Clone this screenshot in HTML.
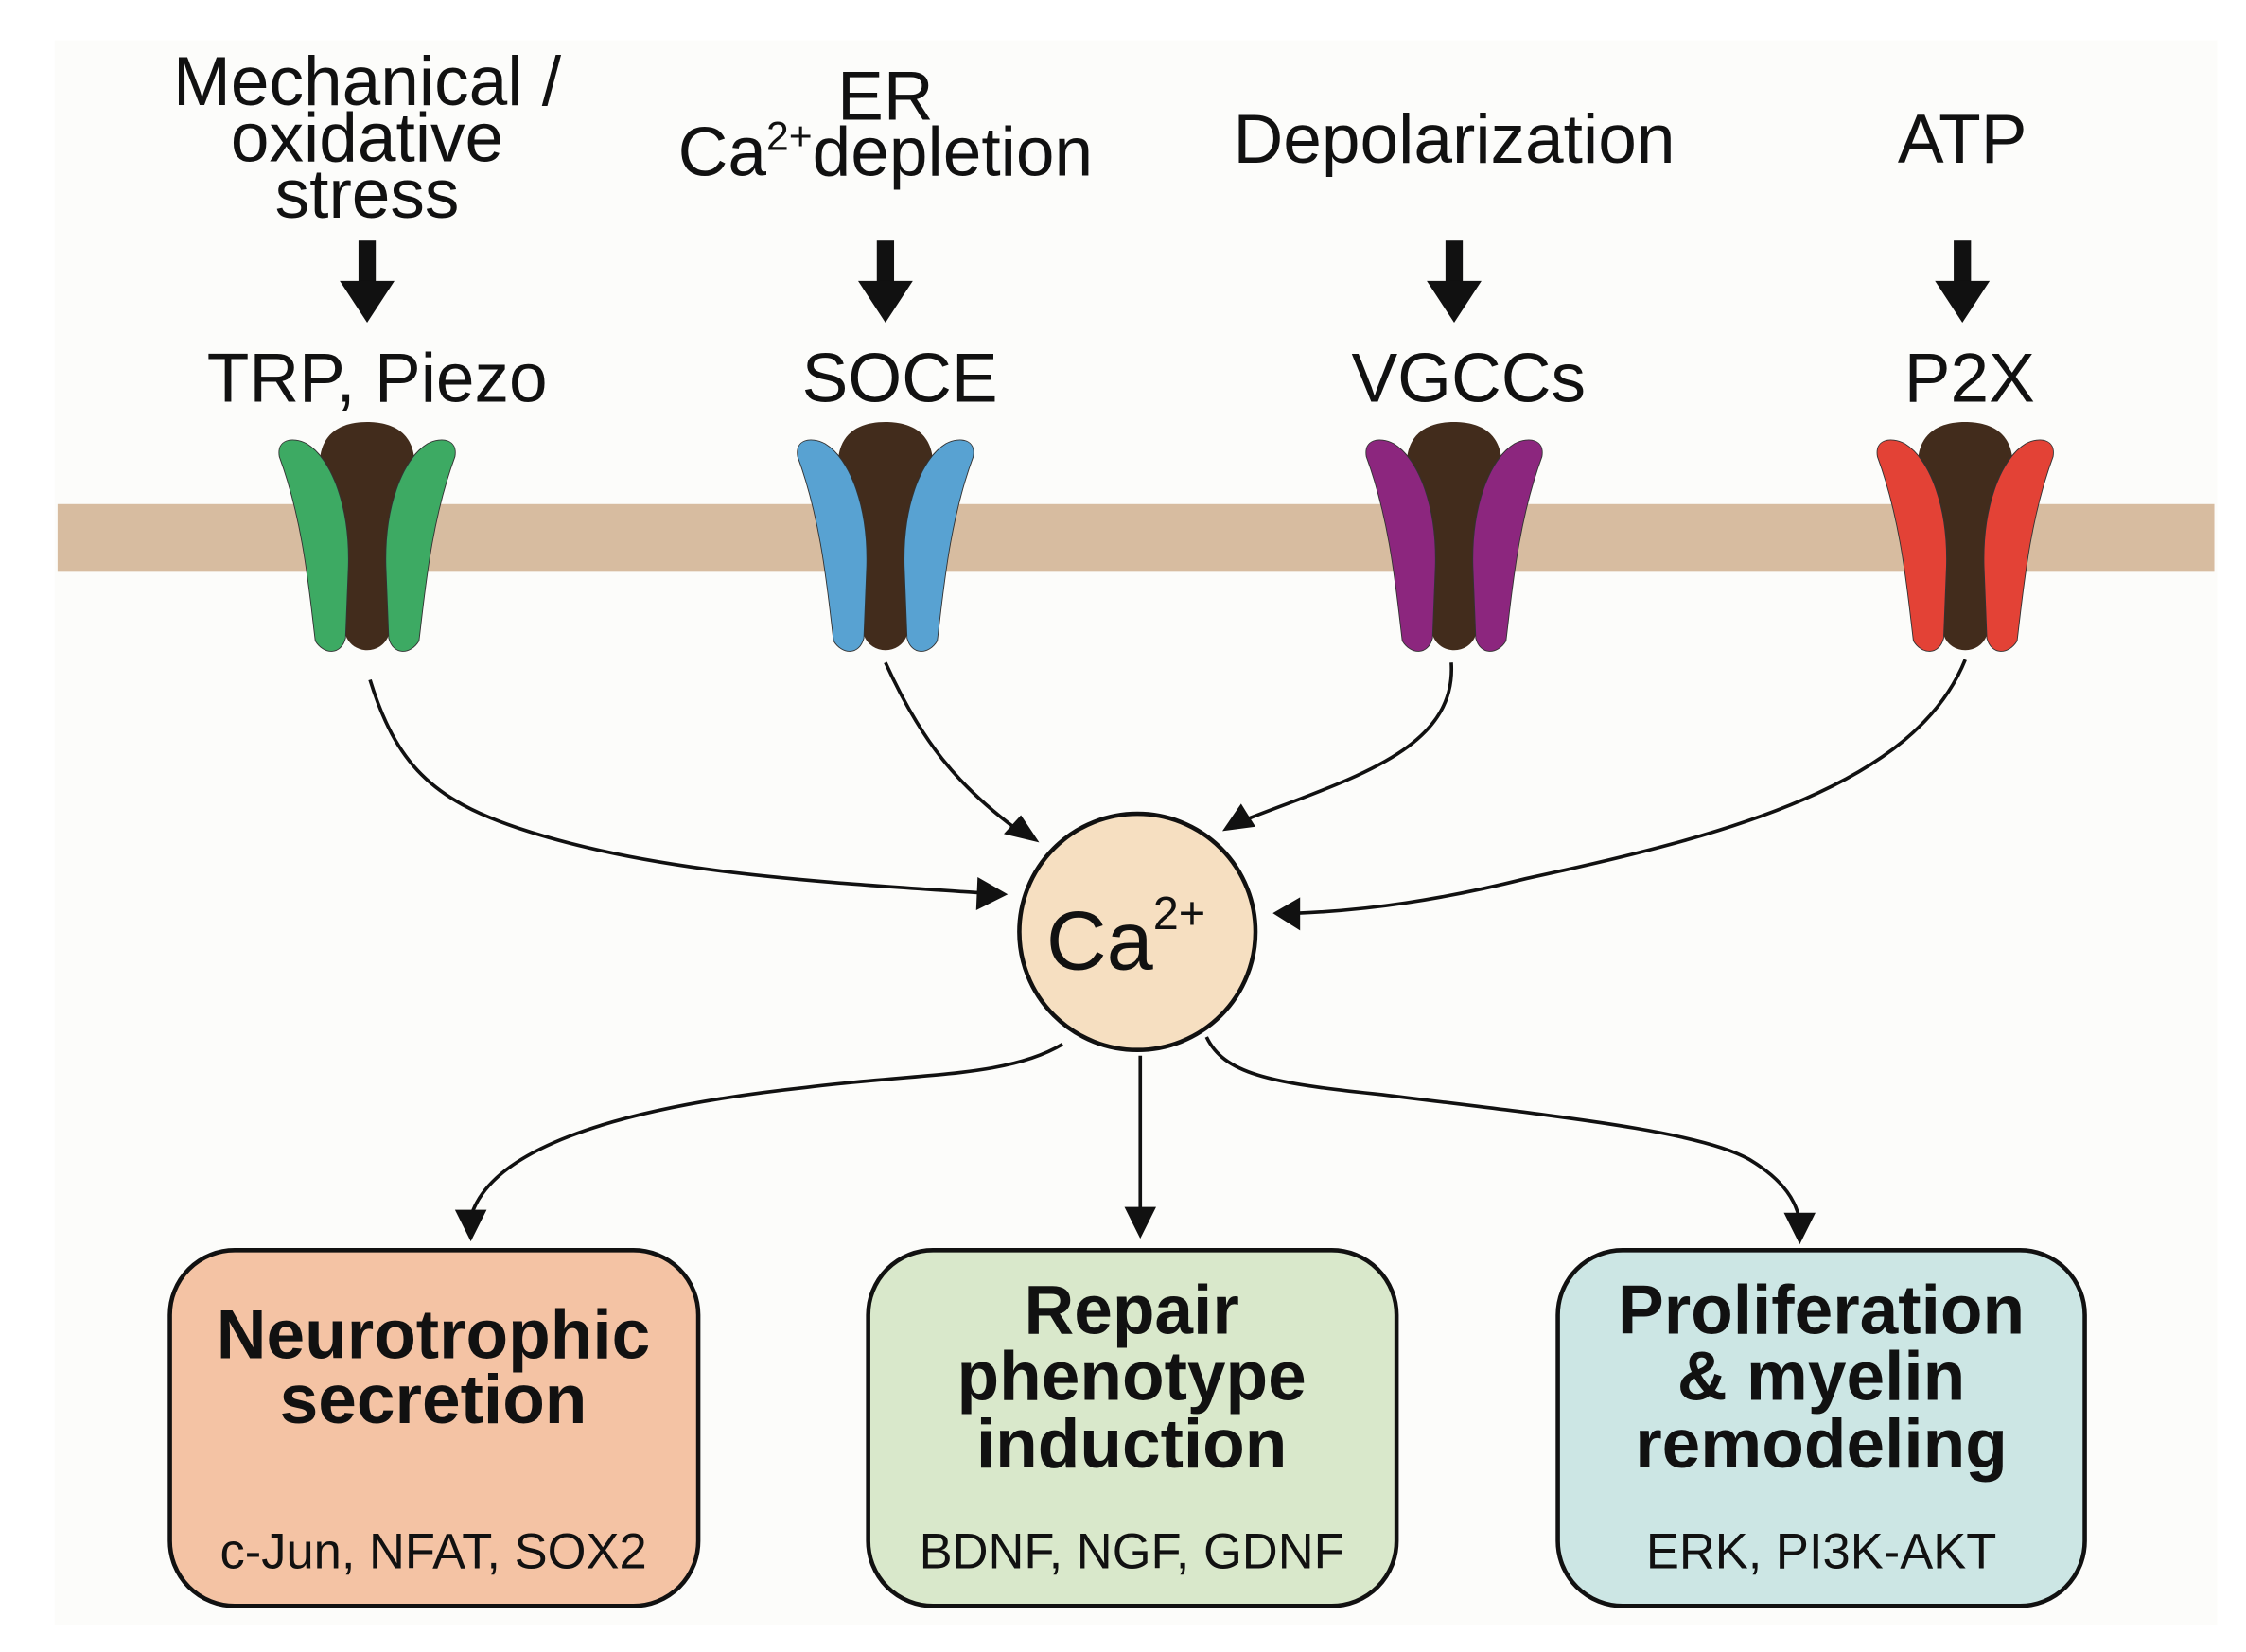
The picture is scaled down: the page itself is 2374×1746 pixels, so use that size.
<!DOCTYPE html>
<html><head><meta charset="utf-8"><style>
html,body{margin:0;padding:0;background:#fff;}
svg{display:block;}
text{font-family:"Liberation Sans",Arial,sans-serif;fill:#111;}
</style></head><body>
<svg width="2374" height="1746" viewBox="0 0 1560 1147" preserveAspectRatio="none" xmlns="http://www.w3.org/2000/svg">
<defs>
<g id="brown"><path d="M-33,30 C-33,6 -16,0 0,0 C16,0 33,6 33,30 L15,148 C10,162 -10,162 -15,148 Z" fill="#422c1c"/></g>
<path id="lobeL" d="M-61,24 C-63,12 -52,10 -42,15 C-24,26 -12,60 -13,100 L-15,150 C-18,162 -30,162 -36,152 C-40,120 -44,70 -61,24 Z" stroke="#333" stroke-width="0.6"/>
<path id="lobeR" d="M61,24 C63,12 52,10 42,15 C24,26 12,60 13,100 L15,150 C18,162 30,162 36,152 C40,120 44,70 61,24 Z" stroke="#333" stroke-width="0.6"/>
</defs>
<rect x="0" y="0" width="1560" height="1147" fill="#fff"/>
<rect x="38" y="28" width="1502" height="1100" fill="#fcfcfa"/>
<rect x="40" y="350" width="1498" height="47" fill="#d7bca0"/>

<g font-size="48" text-anchor="middle">
<text x="255" y="73">Mechanical /</text>
<text x="255" y="112">oxidative</text>
<text x="255" y="151">stress</text>
<text x="615" y="83">ER</text>
<text x="615" y="122">Ca<tspan font-size="28" dy="-18">2+</tspan><tspan dy="18">depletion</tspan></text>
<text x="1010" y="113">Depolarization</text>
<text x="1363" y="113">ATP</text>
<text x="262" y="279">TRP, Piezo</text>
<text x="625" y="279">SOCE</text>
<text x="1020" y="279">VGCCs</text>
<text x="1368" y="279">P2X</text>
</g>

<g fill="#111">
<g transform="translate(255,0)"><rect x="-6" y="167" width="12" height="30"/><path d="M-19,195 L19,195 L0,224 Z"/></g>
<g transform="translate(615,0)"><rect x="-6" y="167" width="12" height="30"/><path d="M-19,195 L19,195 L0,224 Z"/></g>
<g transform="translate(1010,0)"><rect x="-6" y="167" width="12" height="30"/><path d="M-19,195 L19,195 L0,224 Z"/></g>
<g transform="translate(1363,0)"><rect x="-6" y="167" width="12" height="30"/><path d="M-19,195 L19,195 L0,224 Z"/></g>
</g>

<g transform="translate(255,293)"><use href="#brown"/><use href="#lobeL" fill="#3daa63"/><use href="#lobeR" fill="#3daa63"/></g>
<g transform="translate(615,293)"><use href="#brown"/><use href="#lobeL" fill="#58a2d2"/><use href="#lobeR" fill="#58a2d2"/></g>
<g transform="translate(1010,293)"><use href="#brown"/><use href="#lobeL" fill="#8c267e"/><use href="#lobeR" fill="#8c267e"/></g>
<g transform="translate(1365,293)"><use href="#brown"/><use href="#lobeL" fill="#e34236"/><use href="#lobeR" fill="#e34236"/></g>

<g fill="none" stroke="#111" stroke-width="2.4">
<path d="M257,472 C275,530 300,555 360,575 C450,605 560,612 682,620"/>
<path d="M615,460 C640,515 665,545 705,575"/>
<path d="M1008,460 C1012,520 940,540 868,568"/>
<path d="M1365,458 C1330,545 1200,580 1060,610 C1000,625 950,632 902,634"/>
<path d="M738,725 C700,748 640,745 560,755 C420,770 340,800 327,845"/>
<path d="M792,733 L792,845"/>
<path d="M838,720 C850,745 880,752 960,760 C1080,775 1180,785 1215,805 C1240,820 1248,835 1250,848"/>
</g>
<g fill="#111">
<path d="M700,621 L679,609 L678,632 Z"/>
<path d="M721,586 L697,578 L710,566 Z" transform="rotate(-5 709 576)"/>
<path d="M849,577 L862,558 L872,574 Z"/>
<path d="M884,634 L903,623 L903,646 Z"/>
<path d="M327,862 L316,840 L338,840 Z"/>
<path d="M792,860 L781,838 L803,838 Z"/>
<path d="M1250,864 L1239,842 L1261,842 Z"/>
</g>

<circle cx="790" cy="647" r="82" fill="#f6dfc1" stroke="#111" stroke-width="3"/>
<text x="782" y="673" font-size="58" text-anchor="middle">Ca<tspan font-size="32" dy="-28">2+</tspan></text>

<rect x="118" y="868" width="367" height="247" rx="45" fill="#f4c3a4" stroke="#111" stroke-width="3"/>
<rect x="603" y="868" width="367" height="247" rx="45" fill="#d9e8cb" stroke="#111" stroke-width="3"/>
<rect x="1082" y="868" width="366" height="247" rx="45" fill="#cce6e4" stroke="#111" stroke-width="3"/>
<g font-size="48" font-weight="bold" text-anchor="middle">
<text x="301" y="943">Neurotrophic</text>
<text x="301" y="988">secretion</text>
<text x="786" y="926">Repair</text>
<text x="786" y="972">phenotype</text>
<text x="786" y="1019">induction</text>
<text x="1265" y="926">Proliferation</text>
<text x="1265" y="972">&amp; myelin</text>
<text x="1265" y="1019">remodeling</text>
</g>
<g font-size="34.5" text-anchor="middle">
<text x="301" y="1089">c-Jun, NFAT, SOX2</text>
<text x="786" y="1089">BDNF, NGF, GDNF</text>
<text x="1265" y="1089">ERK, PI3K-AKT</text>
</g>
</svg>
</body></html>
